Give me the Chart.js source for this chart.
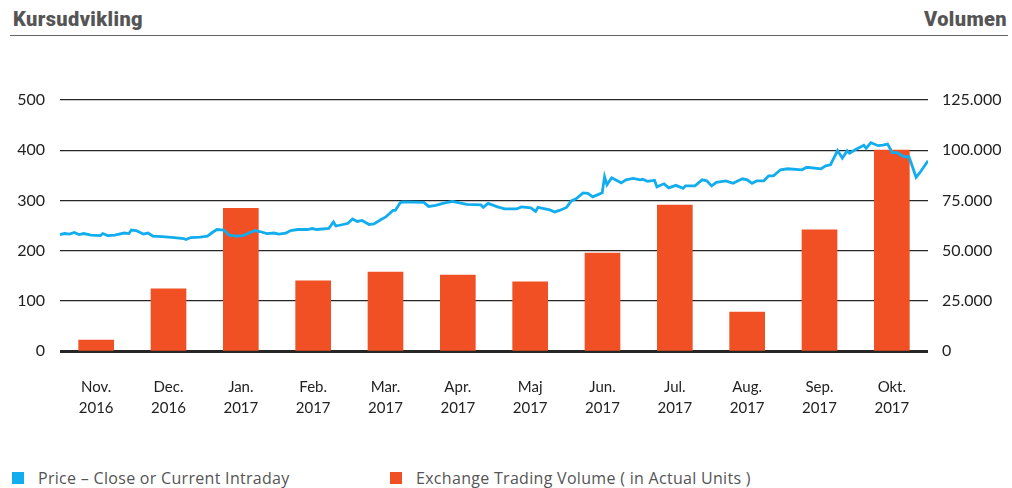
<!DOCTYPE html>
<html>
<head>
<meta charset="utf-8">
<script src="https://cdn.jsdelivr.net/npm/chart.js@4/dist/chart.umd.min.js"></script>
<style>
  body { margin: 0; background: #fff; width: 1012px; height: 488px; overflow: hidden; position: relative; font-family: Lato, "Noto Sans", sans-serif; }
  .head { position: absolute; top: 7px; font: 900 20px "Roboto", sans-serif; color: #555; letter-spacing: 0.4px; }
  #rule { position: absolute; left: 10px; width: 998px; top: 35px; height: 0; border-top: 1.5px solid #666; }
  #wrap { position: absolute; left: 0; top: 0; width: 1012px; height: 440px; }
  .leg { position: absolute; top: 467px; font: 16px "Open Sans", sans-serif; letter-spacing: 0.3px; color: #555; display: flex; align-items: center; }
  .leg span.box { display: inline-block; width: 12px; height: 12px; margin-right: 14px; }
</style>
</head>
<body>
<div class="head" style="left:13px">Kursudvikling</div>
<div class="head" style="right:5px">Volumen</div>
<div id="rule"></div>
<div id="wrap"><canvas id="chart"></canvas></div>
<div class="leg" style="left:12px"><span class="box" style="background:#12adee"></span>Price – Close or Current Intraday</div>
<div class="leg" style="left:390px"><span class="box" style="background:#f05023"></span>Exchange Trading Volume ( in Actual Units )</div>

<script>
const maaneder = [
  ['Nov.', '2016'], ['Dec.', '2016'], ['Jan.', '2017'], ['Feb.', '2017'],
  ['Mar.', '2017'], ['Apr.', '2017'], ['Maj', '2017'], ['Jun.', '2017'],
  ['Jul.', '2017'], ['Aug.', '2017'], ['Sep.', '2017'], ['Okt.', '2017']
];
const volumen = [5500, 31000, 71000, 35000, 39300, 37800, 34400, 48800, 72700, 19400, 60300, 100000];

// dag nr. fra 1. nov 2016 og kurs
const kursDage = [0, 2, 4, 6, 8, 10, 13, 17, 18, 20, 23, 27, 29, 30, 32, 35, 37, 39, 43, 48,
  52, 53, 55, 59, 62, 64, 66, 69, 71, 74, 77, 80, 82, 84, 87, 90, 92, 95, 97, 100,
  104, 106, 108, 113, 115, 116, 119, 121, 123, 125, 127, 130, 132, 135, 137, 140, 141, 143, 144, 153,
  155, 158, 161, 165, 171, 177, 178, 180, 184, 187, 192, 194, 198, 200, 201, 203, 206, 208, 210, 213,
  215, 217, 220, 222, 224, 226, 228, 229, 230, 232, 236, 238, 241, 244, 245, 247, 250, 251, 254, 256,
  259, 262, 263, 267, 270, 272, 274, 276, 280, 283, 287, 289, 291, 293, 296, 298, 300, 303, 306, 312,
  314, 320, 322, 324, 327, 329, 331, 332, 334, 338, 339, 341, 344, 346, 348, 350, 352, 355, 357, 360,
  362, 365];
const kurs = [232, 234, 233, 236, 232, 234, 231, 230, 234, 230, 231, 235, 234, 241, 240, 233, 235, 229, 228, 226,
  224, 222, 226, 227, 229, 236, 242, 241, 231, 229, 230, 236, 240, 238, 234, 235, 233, 235, 240, 242,
  242, 244, 242, 244, 257, 249, 252, 254, 263, 258, 260, 252, 253, 262, 267, 280, 280, 295, 297, 296,
  288, 290, 294, 298, 292, 291, 286, 294, 287, 283, 283, 287, 285, 278, 286, 284, 281, 277, 280, 286,
  299, 303, 315, 314, 307, 311, 315, 347, 331, 345, 335, 341, 344, 341, 342, 338, 340, 327, 333, 325,
  330, 324, 329, 329, 341, 339, 329, 336, 339, 334, 343, 341, 334, 339, 339, 349, 349, 361, 363, 361,
  366, 363, 369, 371, 399, 384, 399, 394, 400, 410, 404, 415, 409, 410, 412, 395, 395, 387, 387, 346,
  358, 379];

const kursPunkter = kursDage.map((d, i) => ({ x: d, y: kurs[i] }));

const ctx = document.getElementById('chart').getContext('2d');
new Chart(ctx, {
  data: {
    labels: maaneder,
    datasets: [
      {
        type: 'line',
        label: 'Price – Close or Current Intraday',
        data: kursPunkter,
        xAxisID: 'xd',
        yAxisID: 'y',
        borderColor: '#12adee',
        borderWidth: 2.8,
        pointRadius: 0,
        tension: 0,
        order: 0
      },
      {
        type: 'bar',
        label: 'Exchange Trading Volume ( in Actual Units )',
        data: volumen,
        xAxisID: 'x',
        yAxisID: 'y1',
        backgroundColor: '#f05023',
        barThickness: 35,
        grouped: false,
        order: 1
      }
    ]
  },
  options: {
    responsive: true,
    maintainAspectRatio: false,
    animation: false,
    layout: { padding: { top: 100, right: 0, left: 0, bottom: 0 } },
    plugins: {
      legend: { display: false },
      tooltip: { enabled: false }
    },
    scales: {
      x: {
        type: 'category',
        grid: { display: false },
        border: { display: false },
        ticks: {
          color: '#222',
          font: { family: 'Lato', size: 15, lineHeight: 1.4 },
          padding: 18,
          maxRotation: 0,
          autoSkip: false
        },
        afterFit: s => { s.height = 89; }
      },
      xd: {
        type: 'linear',
        display: false,
        min: 0,
        max: 365
      },
      y: {
        position: 'left',
        min: 0,
        max: 500,
        z: 1,
        border: { display: false },
        grid: {
          color: 'rgba(0,0,0,0.85)',
          lineWidth: c => c.tick.value === 0 ? 3 : 1.3,
          drawTicks: false
        },
        ticks: {
          stepSize: 100,
          color: '#222',
          font: { family: 'Lato', size: 16 },
          padding: 15
        },
        afterFit: s => { s.width = 60; }
      },
      y1: {
        position: 'right',
        min: 0,
        max: 125000,
        border: { display: false },
        grid: { drawOnChartArea: false, drawTicks: false },
        ticks: {
          stepSize: 25000,
          color: '#222',
          font: { family: 'Lato', size: 16 },
          padding: 14,
          callback: v => v.toLocaleString('de-DE')
        },
        afterFit: s => { s.width = 84; }
      }
    }
  }
});
</script>
</body>
</html>
